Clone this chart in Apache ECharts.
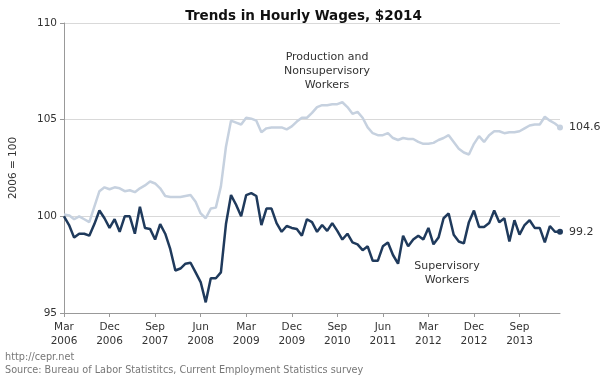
<!DOCTYPE html>
<html>
<head>
<meta charset="utf-8">
<script src="https://cdn.jsdelivr.net/npm/echarts@6/dist/echarts.min.js"></script>
<style>
  html, body { margin: 0; padding: 0; background: #fff; }
  #main { width: 607px; height: 377px; }
</style>
</head>
<body>
<div id="main"></div>
<script>
// monthly index, 2006 = 100, Mar 2006 .. May 2014
var monthNames = ['Jan', 'Feb', 'Mar', 'Apr', 'May', 'Jun', 'Jul', 'Aug', 'Sep', 'Oct', 'Nov', 'Dec'];
var categories = [];
for (var i = 0; i < 99; i++) {
  var m = (2 + i) % 12;
  var y = 2006 + Math.floor((2 + i) / 12);
  categories.push(monthNames[m] + ' ' + y);
}

var production = [
  100.1, 100.05, 99.85, 100.0, 99.85, 99.7, 100.5, 101.3, 101.5, 101.4,
  101.5, 101.45, 101.3, 101.35, 101.25, 101.45, 101.6, 101.8, 101.7, 101.45,
  101.05, 101.0, 101.0, 101.0, 101.05, 101.1, 100.75, 100.15, 99.9, 100.4,
  100.45, 101.55, 103.6, 104.95, 104.85, 104.75, 105.1, 105.05, 104.95, 104.35,
  104.55, 104.6, 104.6, 104.6, 104.5, 104.65, 104.9, 105.1, 105.1, 105.35,
  105.65, 105.75, 105.75, 105.8, 105.8, 105.9, 105.65, 105.3, 105.4, 105.1,
  104.6, 104.3, 104.2, 104.2, 104.3, 104.05, 103.95, 104.05, 104.0, 104.0,
  103.85, 103.75, 103.75, 103.8, 103.95, 104.05, 104.2, 103.85, 103.5, 103.3,
  103.2, 103.75, 104.15, 103.85, 104.2, 104.4, 104.4, 104.3, 104.35, 104.35,
  104.4, 104.55, 104.7, 104.75, 104.75, 105.15, 104.95, 104.8, 104.6
];

var supervisory = [
  100.0, 99.55, 98.9, 99.1, 99.1, 99.0, 99.6, 100.3, 99.9, 99.4,
  99.85, 99.2, 100.0, 100.0, 99.1, 100.5, 99.4, 99.35, 98.8, 99.6,
  99.1, 98.3, 97.2, 97.3, 97.55, 97.6, 97.1, 96.6, 95.55, 96.8,
  96.8, 97.1, 99.6, 101.1, 100.6, 100.0, 101.1, 101.2, 101.05, 99.55,
  100.4, 100.4, 99.65, 99.2, 99.5, 99.4, 99.35, 99.0, 99.85, 99.7,
  99.2, 99.55, 99.25, 99.65, 99.25, 98.8, 99.1, 98.65, 98.55, 98.25,
  98.45, 97.7, 97.7, 98.45, 98.65, 98.0, 97.55, 99.0, 98.45, 98.8,
  99.0, 98.8, 99.4, 98.55, 98.9, 99.9, 100.15, 99.05, 98.7, 98.6,
  99.7, 100.3, 99.45, 99.45, 99.65, 100.3, 99.7, 99.9, 98.7, 99.8,
  99.05, 99.55, 99.8, 99.4, 99.4, 98.65, 99.5, 99.2, 99.2
];

var yTicks = [95, 100, 105, 110];

var font = '"DejaVu Sans", Verdana, sans-serif';
var lastIdx = categories.length - 1;

var chart = echarts.init(document.getElementById('main'));
chart.setOption({
  animation: false,
  textStyle: { fontFamily: font },
  title: {
    text: 'Trends in Hourly Wages, $2014',
    left: 'center',
    top: 4,
    textStyle: { fontSize: 13.5, fontWeight: 'bold', color: '#111', fontFamily: font }
  },
  grid: { left: 60, right: 47, top: 23, bottom: 64 },
  xAxis: {
    type: 'category',
    data: categories,
    boundaryGap: false,
    axisLine: { lineStyle: { color: '#999', width: 1 } },
    axisTick: { interval: 8, length: 4, lineStyle: { color: '#999' } },
    axisLabel: {
      interval: 8,
      color: '#333',
      fontSize: 10.5,
      lineHeight: 14,
      margin: 7,
      formatter: function (v) { return v.replace(' ', '\n'); }
    },
    splitLine: { show: false }
  },
  yAxis: {
    type: 'value',
    min: yTicks[0],
    max: yTicks[yTicks.length - 1],
    interval: 5,
    name: '2006 = 100',
    nameLocation: 'middle',
    nameGap: 45,
    nameRotate: 90,
    nameTextStyle: { color: '#333', fontSize: 10.5 },
    axisLine: { show: true, lineStyle: { color: '#999' } },
    axisTick: { show: true, length: 4, lineStyle: { color: '#999' } },
    axisLabel: { color: '#333', fontSize: 10.5, margin: 7 },
    splitLine: { lineStyle: { color: '#d9d9d9', width: 1 } }
  },
  graphic: [
    {
      type: 'text', x: 327, y: 50,
      style: {
        text: 'Production and\nNonsupervisory\nWorkers',
        fill: '#333', font: '11px ' + font, align: 'center', lineHeight: 14
      }
    },
    {
      type: 'text', x: 447, y: 259,
      style: {
        text: 'Supervisory\nWorkers',
        fill: '#333', font: '11px ' + font, align: 'center', lineHeight: 14
      }
    },
    {
      type: 'text', x: 5, y: 352,
      style: { text: 'http://cepr.net', fill: '#777', font: '9.7px ' + font }
    },
    {
      type: 'text', x: 5, y: 365,
      style: {
        text: 'Source: Bureau of Labor Statistitcs, Current Employment Statistics survey',
        fill: '#777', font: '9.7px ' + font
      }
    }
  ],
  series: [
    {
      name: 'Production and Nonsupervisory Workers',
      type: 'line',
      data: production,
      showAllSymbol: true,
      symbol: 'circle',
      symbolSize: function (v, p) { return p.dataIndex === lastIdx ? 6 : 0; },
      lineStyle: { color: '#c6d1df', width: 2.5 },
      itemStyle: { color: '#c6d1df' },
      endLabel: {
        show: true, color: '#333', fontSize: 11, distance: 9,
        formatter: function (p) { return p.value.toFixed(1); }
      }
    },
    {
      name: 'Supervisory Workers',
      type: 'line',
      data: supervisory,
      showAllSymbol: true,
      symbol: 'circle',
      symbolSize: function (v, p) { return p.dataIndex === lastIdx ? 6 : 0; },
      lineStyle: { color: '#1f3a5c', width: 2.5 },
      itemStyle: { color: '#1f3a5c' },
      endLabel: {
        show: true, color: '#333', fontSize: 11, distance: 9,
        formatter: function (p) { return p.value.toFixed(1); }
      }
    }
  ]
});
</script>
</body>
</html>
